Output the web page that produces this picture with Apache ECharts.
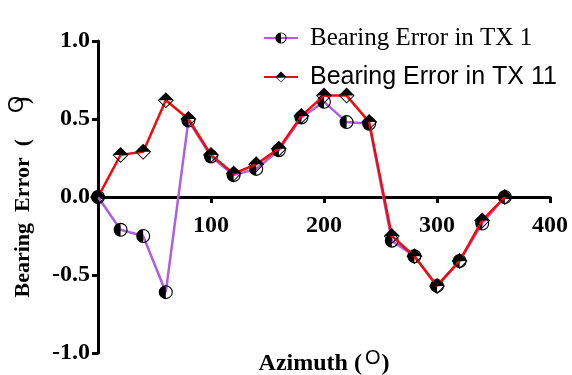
<!DOCTYPE html>
<html>
<head>
<meta charset="utf-8">
<script src="https://cdn.jsdelivr.net/npm/echarts@6/dist/echarts.min.js"></script>
<style>html,body{margin:0;padding:0;background:#fff;}#c{width:572px;height:375px;}</style>
</head>
<body>
<div id="c"></div>
<script>
var azimuth = [0, 20, 40, 60, 80, 100, 120, 140, 160, 180, 200, 220, 240, 260, 280, 300, 320, 340, 360];
var tx1 = [0, -0.21, -0.25, -0.61, 0.49, 0.26, 0.14, 0.18, 0.30, 0.51, 0.61, 0.48, 0.47, -0.28, -0.38, -0.57, -0.41, -0.17, 0];
var tx11 = [0, 0.27, 0.29, 0.62, 0.50, 0.27, 0.15, 0.21, 0.31, 0.52, 0.65, 0.65, 0.48, -0.25, -0.38, -0.57, -0.41, -0.15, 0];
var xTicks = [0, 100, 200, 300, 400];
var yTicks = [-1.0, -0.5, 0.0, 0.5, 1.0];
var seriesNames = ['Bearing Error in TX 1', 'Bearing Error in TX 11'];

function pairs(xs, ys) { return xs.map(function (x, i) { return [x, ys[i]]; }); }

// half-filled circle (left half black, ring outline)
var halfCircle = 'path://M10 0 A10 10 0 1 1 10 20 A10 10 0 1 1 10 0 Z ' +
  'M10 1.6 A8.4 8.4 0 1 0 10 18.4 A8.4 8.4 0 1 0 10 1.6 Z ' +
  'M10 20 A10 10 0 0 1 10 0 Z';
// half-filled diamond (top half black, outline)
var halfDiamond = 'path://M10 0 L20 10 L10 20 L0 10 Z ' +
  'M10 1.6 L1.6 10 L10 18.4 L18.4 10 Z ' +
  'M0 10 L10 0 L20 10 Z';

var serif = "'Liberation Serif', 'Times New Roman', serif";
var sans = "'Liberation Sans', Arial, sans-serif";

var gridTop = 41, gridBottom = 22, chartH = 375;
var plotH = chartH - gridTop - gridBottom;
// x axis drawn at y = 0 (middle of the symmetric y range)
var xOffset = -plotH / 2;

var chart = echarts.init(document.getElementById('c'));
chart.setOption({
  animation: false,
  backgroundColor: '#fff',
  grid: { left: 98, right: 22, top: gridTop, bottom: gridBottom, outerBoundsMode: 'none', containLabel: false },
  legend: {
    orient: 'vertical',
    left: 258,
    top: 20,
    itemWidth: 34,
    itemHeight: 14,
    itemGap: 13,
    textStyle: { color: '#000', fontSize: 25, lineHeight: 26, padding: [0, 0, 0, 7] },
    data: [
      { name: seriesNames[0], textStyle: { fontFamily: serif } },
      { name: seriesNames[1], textStyle: { fontFamily: sans, fontSize: 25 } }
    ]
  },
  xAxis: {
    type: 'value',
    min: xTicks[0],
    max: xTicks[xTicks.length - 1],
    interval: 100,
    position: 'bottom',
    offset: xOffset,
    name: '{a|Azimuth (}{s|O}{a|)}',
    nameLocation: 'middle',
    nameGap: 151,
    nameTextStyle: {
      rich: {
        a: { fontFamily: serif, fontWeight: 'bold', fontSize: 24, color: '#000' },
        s: { fontFamily: sans, fontSize: 20, color: '#000', padding: [0, 1, 12, 3] }
      }
    },
    axisLine: { onZero: false, lineStyle: { color: '#000', width: 3 } },
    axisTick: { length: 6, lineStyle: { color: '#000', width: 3 } },
    axisLabel: {
      margin: 17,
      color: '#000',
      fontFamily: serif,
      fontWeight: 'bold',
      fontSize: 24,
      formatter: function (v) { return v === 0 ? '' : String(v); }
    },
    splitLine: { show: false }
  },
  yAxis: {
    type: 'value',
    min: yTicks[0],
    max: yTicks[yTicks.length - 1],
    interval: 0.5,
    name: '{a|Bearing  Error  (}{s|O}{p|)}',
    nameLocation: 'middle',
    nameGap: 58,
    nameTextStyle: {
      rich: {
        a: { fontFamily: serif, fontWeight: 'bold', fontSize: 22, color: '#000' },
        s: { fontFamily: sans, fontSize: 22, color: '#000', padding: [0, 0, 12, 26] },
        p: { fontFamily: serif, fontWeight: 'bold', fontSize: 22, color: '#000', padding: [0, 0, 0, -8] }
      }
    },
    axisLine: { onZero: false, lineStyle: { color: '#000', width: 3 } },
    axisTick: { length: 6, lineStyle: { color: '#000', width: 3 } },
    axisLabel: {
      margin: 8,
      color: '#000',
      fontFamily: serif,
      fontWeight: 'bold',
      fontSize: 24,
      formatter: function (v) { return v.toFixed(1); }
    },
    splitLine: { show: false }
  },
  series: [
    {
      name: seriesNames[0],
      type: 'line',
      data: pairs(azimuth, tx1),
      symbol: halfCircle,
      symbolSize: 14,
      showAllSymbol: true,
      lineStyle: { color: '#b05ee0', width: 2.5 },
      itemStyle: { color: '#000', borderWidth: 0 },
      z: 2
    },
    {
      name: seriesNames[1],
      type: 'line',
      data: pairs(azimuth, tx11),
      symbol: halfDiamond,
      symbolSize: 16,
      showAllSymbol: true,
      lineStyle: { color: '#f00a0a', width: 2.5 },
      itemStyle: { color: '#000', borderWidth: 0 },
      z: 3
    }
  ]
});
</script>
</body>
</html>
